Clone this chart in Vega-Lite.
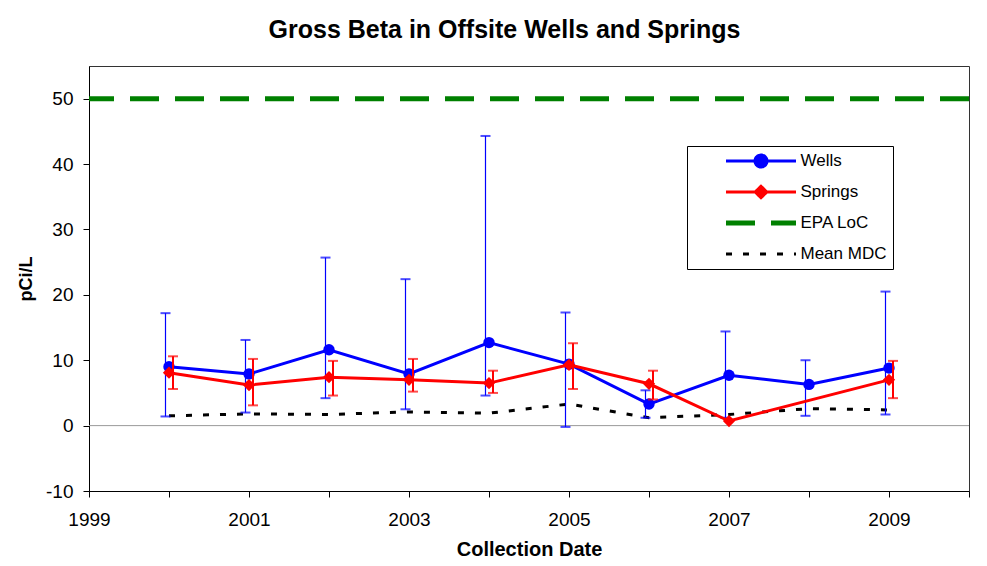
{
  "$schema": "https://vega.github.io/schema/vega-lite/v6.json",
  "width": 880,
  "height": 425,
  "autosize": {"type": "none"},
  "padding": {"left": 89, "top": 66, "right": 18, "bottom": 75},
  "background": "white",
  "title": {"text": "Gross Beta in Offsite Wells and Springs", "font": "Liberation Sans", "fontSize": 25, "fontWeight": "bold", "color": "black", "anchor": "middle", "dx": -24.5, "offset": 23},
  "config": {
    "view": {"stroke": "#333333", "strokeWidth": 1},
    "font": "Liberation Sans",
    "axis": {"domainColor": "black", "tickColor": "black", "grid": false, "labelFont": "Liberation Sans", "labelColor": "black", "titleFont": "Liberation Sans", "titleColor": "black", "titleFontWeight": "bold", "domainWidth": 1, "tickWidth": 1, "labelOverlap": false, "labelFlush": false},
    "axisX": {"labelFontSize": 19, "tickSize": 6, "labelPadding": 13, "titlePadding": 10, "titleFontSize": 20},
    "axisY": {"labelFontSize": 19, "tickSize": 6, "labelPadding": 10, "titlePadding": 10, "titleFontSize": 18}
  },
  "data": {"values": [
    {"series": "Zero", "year": null, "value": 0},
    {"series": "EPA LoC", "year": null, "value": 50},
    {"series": "Mean MDC", "year": 2000, "value": 1.5},
    {"series": "Mean MDC", "year": 2001, "value": 1.8},
    {"series": "Mean MDC", "year": 2002, "value": 1.7},
    {"series": "Mean MDC", "year": 2003, "value": 2.1},
    {"series": "Mean MDC", "year": 2004, "value": 1.9},
    {"series": "Mean MDC", "year": 2005, "value": 3.3},
    {"series": "Mean MDC", "year": 2006, "value": 1.2},
    {"series": "Mean MDC", "year": 2007, "value": 1.7},
    {"series": "Mean MDC", "year": 2008, "value": 2.6},
    {"series": "Mean MDC", "year": 2009, "value": 2.4},
    {"series": "Wells", "year": 2000, "value": 9.0, "lo": 1.4, "hi": 17.2},
    {"series": "Wells", "year": 2001, "value": 7.9, "lo": 2.0, "hi": 13.1},
    {"series": "Wells", "year": 2002, "value": 11.6, "lo": 4.2, "hi": 25.7},
    {"series": "Wells", "year": 2003, "value": 7.9, "lo": 2.5, "hi": 22.4},
    {"series": "Wells", "year": 2004, "value": 12.7, "lo": 4.6, "hi": 44.3},
    {"series": "Wells", "year": 2005, "value": 9.4, "lo": -0.2, "hi": 17.3},
    {"series": "Wells", "year": 2006, "value": 3.3, "lo": 1.2, "hi": 5.4},
    {"series": "Wells", "year": 2007, "value": 7.7, "lo": 1.2, "hi": 14.4},
    {"series": "Wells", "year": 2008, "value": 6.3, "lo": 1.5, "hi": 10.0},
    {"series": "Wells", "year": 2009, "value": 8.8, "lo": 1.7, "hi": 20.5},
    {"series": "Springs", "year": 2000, "value": 8.1, "lo": 5.6, "hi": 10.6},
    {"series": "Springs", "year": 2001, "value": 6.2, "lo": 3.1, "hi": 10.2},
    {"series": "Springs", "year": 2002, "value": 7.4, "lo": 4.6, "hi": 9.9},
    {"series": "Springs", "year": 2003, "value": 7.0, "lo": 5.2, "hi": 10.2},
    {"series": "Springs", "year": 2004, "value": 6.5, "lo": 5.0, "hi": 8.4},
    {"series": "Springs", "year": 2005, "value": 9.3, "lo": 5.6, "hi": 12.6},
    {"series": "Springs", "year": 2006, "value": 6.4, "lo": 4.0, "hi": 8.4},
    {"series": "Springs", "year": 2007, "value": 0.7},
    {"series": "Springs", "year": 2009, "value": 7.0, "lo": 4.2, "hi": 9.9}
  ]},
  "layer": [
    {
      "transform": [{"filter": "datum.series === 'Zero'"}],
      "mark": {"type": "rule", "color": "#999999", "strokeWidth": 1},
      "encoding": {
        "y": {"field": "value", "type": "quantitative", "title": "pCi/L", "scale": {"domain": [-10, 55], "nice": false, "zero": false}, "axis": {"values": [-10, -5, 0, 5, 10, 15, 20, 25, 30, 35, 40, 45, 50, 55], "labelExpr": "datum.value % 10 == 0 ? '' + datum.value : ''"}}
      }
    },
    {
      "transform": [{"filter": "datum.series === 'EPA LoC'"}],
      "mark": {"type": "rule", "strokeWidth": 5, "strokeDash": [29, 16]},
      "encoding": {
        "y": {"field": "value", "type": "quantitative", "title": "pCi/L"},
        "color": {"field": "series", "type": "nominal"}
      }
    },
    {
      "transform": [{"filter": "datum.series === 'Mean MDC'"}],
      "mark": {"type": "line", "strokeWidth": 3, "strokeDash": [6, 11]},
      "encoding": {
        "x": {"field": "year", "type": "quantitative", "title": "Collection Date", "scale": {"domain": [1999, 2010], "nice": false, "zero": false}, "axis": {"values": [1999, 2000, 2001, 2002, 2003, 2004, 2005, 2006, 2007, 2008, 2009, 2010], "labelExpr": "datum.value % 2 == 1 && datum.value < 2010 ? '' + datum.value : ''"}},
        "y": {"field": "value", "type": "quantitative", "title": "pCi/L"},
        "color": {
          "field": "series", "type": "nominal",
          "scale": {"domain": ["Wells", "Springs", "EPA LoC", "Mean MDC"], "range": ["#0000ff", "#ff0000", "#008000", "#000000"]},
          "legend": {
            "orient": "none", "legendX": 598, "legendY": 80, "title": null,
            "strokeColor": "black", "fillColor": "white", "padding": 6,
            "labelFont": "Liberation Sans", "labelFontSize": 17, "labelColor": "black",
            "symbolSize": 100, "symbolStrokeWidth": 3, "symbolOffset": 59.5, "labelOffset": 31,
            "rowPadding": 13, "clipHeight": 18,
            "encode": {"symbols": {"update": {
              "shape": {"signal": "datum.value === 'Wells' ? 'M-7,0L7,0M1.2,0A1.2,1.2,0,1,1,-1.2,0A1.2,1.2,0,1,1,1.2,0Z' : datum.value === 'Springs' ? 'M-7,0L7,0M0,-1.15L1.15,0L0,1.15L-1.15,0Z' : 'M-7,0L7,0'"},
              "fill": {"signal": "datum.value === 'Wells' ? '#0000ff' : datum.value === 'Springs' ? '#ff0000' : 'transparent'"},
              "stroke": {"signal": "datum.value === 'Wells' ? '#0000ff' : datum.value === 'Springs' ? '#ff0000' : datum.value === 'EPA LoC' ? '#008000' : '#000000'"},
              "strokeDash": {"signal": "datum.value === 'EPA LoC' ? [29, 16] : datum.value === 'Mean MDC' ? [6, 11] : [1, 0]"},
              "strokeWidth": {"signal": "datum.value === 'EPA LoC' ? 5 : 3"},
              "opacity": {"value": 1}
            }}}
          }
        }
      }
    },
    {
      "transform": [{"filter": "datum.series === 'Wells'"}],
      "mark": {"type": "rule", "color": "#0000ff", "stroke": "#0000ff", "strokeWidth": 1.2, "xOffset": -3.5},
      "encoding": {
        "x": {"field": "year", "type": "quantitative", "title": "Collection Date"},
        "y": {"field": "lo", "type": "quantitative", "title": "pCi/L"},
        "y2": {"field": "hi"}
      }
    },
    {
      "transform": [{"filter": "datum.series === 'Wells'"}],
      "mark": {"type": "tick", "orient": "horizontal", "color": "#0000ff", "size": 10, "thickness": 2, "xOffset": -3.5},
      "encoding": {
        "x": {"field": "year", "type": "quantitative", "title": "Collection Date"},
        "y": {"field": "lo", "type": "quantitative", "title": "pCi/L"}
      }
    },
    {
      "transform": [{"filter": "datum.series === 'Wells'"}],
      "mark": {"type": "tick", "orient": "horizontal", "color": "#0000ff", "size": 10, "thickness": 2, "xOffset": -3.5},
      "encoding": {
        "x": {"field": "year", "type": "quantitative", "title": "Collection Date"},
        "y": {"field": "hi", "type": "quantitative", "title": "pCi/L"}
      }
    },
    {
      "transform": [{"filter": "datum.series === 'Wells'"}],
      "mark": {"type": "line", "strokeWidth": 3},
      "encoding": {
        "x": {"field": "year", "type": "quantitative", "title": "Collection Date"},
        "y": {"field": "value", "type": "quantitative", "title": "pCi/L"},
        "color": {"field": "series", "type": "nominal"}
      }
    },
    {
      "transform": [{"filter": "datum.series === 'Wells'"}],
      "mark": {"type": "point", "shape": "circle", "filled": true, "size": 130, "color": "#0000ff", "opacity": 1},
      "encoding": {
        "x": {"field": "year", "type": "quantitative", "title": "Collection Date"},
        "y": {"field": "value", "type": "quantitative", "title": "pCi/L"}
      }
    },
    {
      "transform": [{"filter": "datum.series === 'Springs' && isValid(datum.lo)"}],
      "mark": {"type": "rule", "color": "#ff0000", "strokeWidth": 2, "xOffset": 4},
      "encoding": {
        "x": {"field": "year", "type": "quantitative", "title": "Collection Date"},
        "y": {"field": "lo", "type": "quantitative", "title": "pCi/L"},
        "y2": {"field": "hi"}
      }
    },
    {
      "transform": [{"filter": "datum.series === 'Springs' && isValid(datum.lo)"}],
      "mark": {"type": "tick", "orient": "horizontal", "color": "#ff0000", "size": 10, "thickness": 2, "xOffset": 4},
      "encoding": {
        "x": {"field": "year", "type": "quantitative", "title": "Collection Date"},
        "y": {"field": "lo", "type": "quantitative", "title": "pCi/L"}
      }
    },
    {
      "transform": [{"filter": "datum.series === 'Springs' && isValid(datum.hi)"}],
      "mark": {"type": "tick", "orient": "horizontal", "color": "#ff0000", "size": 10, "thickness": 2, "xOffset": 4},
      "encoding": {
        "x": {"field": "year", "type": "quantitative", "title": "Collection Date"},
        "y": {"field": "hi", "type": "quantitative", "title": "pCi/L"}
      }
    },
    {
      "transform": [{"filter": "datum.series === 'Springs'"}],
      "mark": {"type": "line", "strokeWidth": 3},
      "encoding": {
        "x": {"field": "year", "type": "quantitative", "title": "Collection Date"},
        "y": {"field": "value", "type": "quantitative", "title": "pCi/L"},
        "color": {"field": "series", "type": "nominal"}
      }
    },
    {
      "transform": [{"filter": "datum.series === 'Springs'"}],
      "mark": {"type": "point", "shape": "diamond", "filled": true, "size": 150, "color": "#ff0000", "opacity": 1},
      "encoding": {
        "x": {"field": "year", "type": "quantitative", "title": "Collection Date"},
        "y": {"field": "value", "type": "quantitative", "title": "pCi/L"}
      }
    }
  ]
}
